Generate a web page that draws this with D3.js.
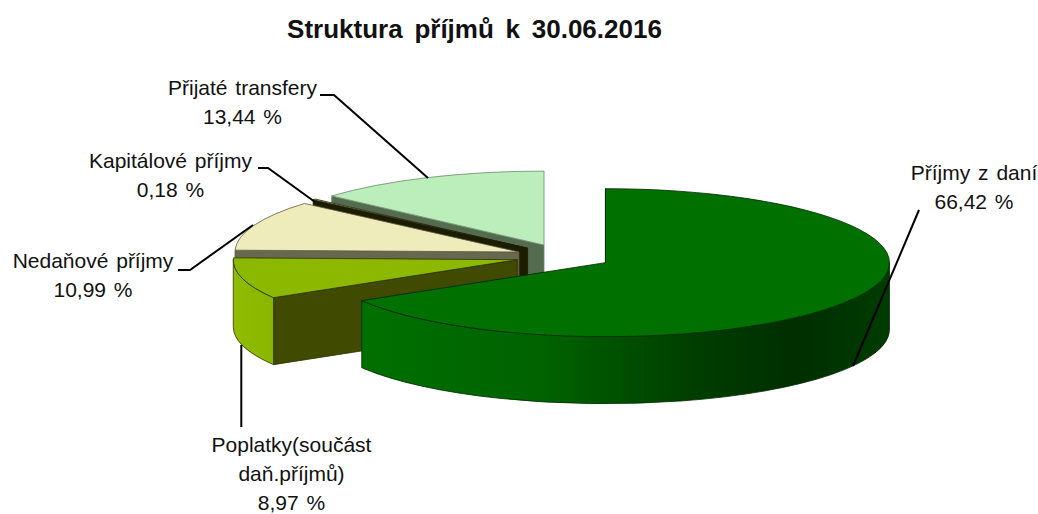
<!DOCTYPE html>
<html>
<head>
<meta charset="utf-8">
<script src="https://cdn.jsdelivr.net/npm/d3@7/dist/d3.min.js"></script>
<style>
  html, body { margin: 0; padding: 0; background: #fff; }
  text { font-family: "Liberation Sans", Arial, sans-serif; fill: #111; }
</style>
</head>
<body>
<div id="chart"></div>
<script>
var title = "Struktura příjmů k 30.06.2016";
var values = [66.42, 8.97, 10.99, 0.18, 13.44];
var labelLines = [["Příjmy z daní"], ["Poplatky(součást", "daň.příjmů)"], ["Nedaňové příjmy"], ["Kapitálové příjmy"], ["Přijaté transfery"]];
var topColors = ["#007000", "#8cb900", "#eeecbb", "#e8e8b0", "#bbeebb"];
var cutColors = ["#005000", "#404a00", "#68684f", "#1c1c00", "#546b50"];
var edgeColors = ["#002800", "#2c3300", "#5c5c44", "#1c1c00", "#6f8a6f"];

var w = 1038, h = 514,
    cx = 563.7, cy = 256.5,
    rx = 284, ry = 74,
    depth = 67,
    explode = 48;

var svg = d3.select("#chart").append("svg")
    .attr("width", w)
    .attr("height", h)
    .style("display", "block");

// gradients for the curved outer walls
var defs = svg.append("defs");
function wallGradient(id, stops) {
  var g = defs.append("linearGradient").attr("id", id);
  stops.forEach(function(s) {
    g.append("stop").attr("offset", s[0]).attr("stop-color", s[1]);
  });
}
wallGradient("wall0", [[0, "#007000"], [0.35, "#006200"], [0.62, "#003f00"], [0.82, "#002e00"], [1, "#003c00"]]);
wallGradient("wall1", [[0, "#8fbc00"], [1, "#8ab600"]]);

var pie = d3.pie().sort(null).value(function(d) { return d; });
var arcs = pie(values);

var arc = d3.arc().innerRadius(0).outerRadius(rx);

function slicePos(a) {
  var mid = (a.startAngle + a.endAngle) / 2;
  return {
    x: cx + explode * Math.sin(mid),
    y: cy - explode * (ry / rx) * Math.cos(mid)
  };
}

function pt(c, angle) {
  return [c.x + rx * Math.sin(angle), c.y - ry * Math.cos(angle)];
}

// flat side going straight down from the radius at this angle
function cutPath(c, angle) {
  var p = pt(c, angle);
  return "M" + c.x + "," + c.y + "L" + p[0] + "," + p[1] +
         "L" + p[0] + "," + (p[1] + depth) + "L" + c.x + "," + (c.y + depth) + "Z";
}

// curved outer wall, only the part that faces the viewer
function wallPath(c, a0, a1) {
  var p0 = pt(c, a0), p1 = pt(c, a1);
  return "M" + p0[0] + "," + p0[1] +
         "A" + rx + "," + ry + " 0 0 1 " + p1[0] + "," + p1[1] +
         "L" + p1[0] + "," + (p1[1] + depth) +
         "A" + rx + "," + ry + " 0 0 0 " + p0[0] + "," + (p0[1] + depth) + "Z";
}

// back slices first, big front slice last
var order = [4, 3, 2, 1, 0];
var pieG = svg.append("g");

order.forEach(function(i) {
  var a = arcs[i], c = slicePos(a);
  var g = pieG.append("g");

  g.append("path")
      .attr("d", cutPath(c, a.startAngle))
      .attr("fill", cutColors[i])
      .attr("stroke", edgeColors[i])
      .attr("stroke-width", 0.8);

  var wallFrom = Math.max(a.startAngle, Math.PI / 2),
      wallTo = Math.min(a.endAngle, 3 * Math.PI / 2);
  if (wallFrom < wallTo) {
    g.append("path")
        .attr("d", wallPath(c, wallFrom, wallTo))
        .attr("fill", "url(#wall" + i + ")")
        .attr("stroke", edgeColors[i])
        .attr("stroke-width", 0.8);
  }

  g.append("path")
      .attr("d", arc(a))
      .attr("transform", "translate(" + c.x + "," + c.y + ") scale(1," + (ry / rx) + ")")
      .attr("fill", topColors[i])
      .attr("stroke", edgeColors[i])
      .attr("stroke-width", 0.8)
      .attr("vector-effect", "non-scaling-stroke");
});

// leader lines, hand placed like in the original
var leaders = [
  [[919, 210], [853, 366]],
  [[241.3, 345], [241.3, 427]],
  [[178, 270], [190, 270], [253, 225]],
  [[258, 168], [268, 168], [315, 202]],
  [[320, 95], [334, 95], [428, 178]]
];
var line = d3.line();
svg.append("g").selectAll("path")
    .data(leaders)
    .enter()
    .append("path")
    .attr("d", line)
    .attr("fill", "none")
    .attr("stroke", "#000")
    .attr("stroke-width", 2);

// label anchors: center x and first baseline
var labelX = [974, 291.5, 93, 170.5, 242.5];
var labelY = [180, 452, 268, 168, 95];
var lineGap = 29;
var pct = function(v) { return d3.format(".2f")(v).replace(".", ",") + " %"; };

labelLines.forEach(function(lines, i) {
  var t = svg.append("text")
      .attr("text-anchor", "middle")
      .attr("font-size", 21)
      .attr("word-spacing", 2);
  lines.concat([pct(values[i])]).forEach(function(s, k) {
    t.append("tspan")
        .attr("x", labelX[i])
        .attr("y", labelY[i] + k * lineGap)
        .text(s);
  });
});

svg.append("text")
    .attr("x", 474.5)
    .attr("y", 38)
    .attr("text-anchor", "middle")
    .attr("font-size", 26)
    .attr("font-weight", "bold")
    .attr("word-spacing", 4.5)
    .text(title);
</script>
</body>
</html>
